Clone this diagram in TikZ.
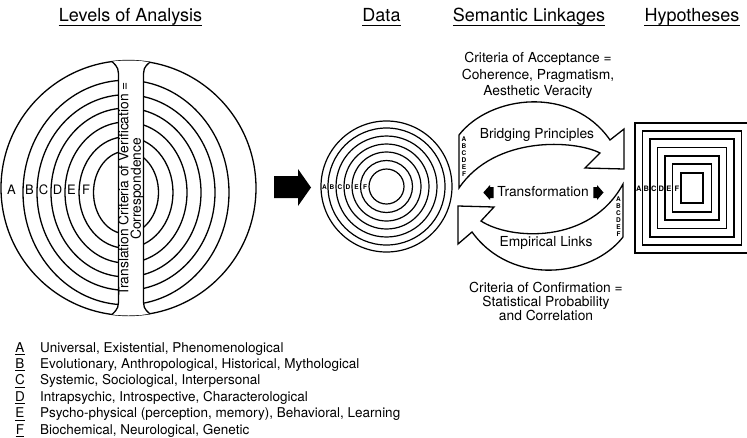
\documentclass[tikz,border=0pt]{standalone}
\usepackage{fontspec}
\setmainfont{TeX Gyre Heros}
\begin{document}
\begin{tikzpicture}[x=1pt,y=-1pt]
\tikzset{
  ln/.style={line width=1.3pt, line join=miter},
  ttl/.style={font=\fontsize{18}{21}\selectfont, inner sep=0pt, anchor=base},
  txt/.style={font=\fontsize{13.8}{16.5}\selectfont, inner sep=0pt, align=center},
  lvl/.style={font=\fontsize{13}{15}\selectfont, inner sep=0pt},
  tinylet/.style={font=\fontsize{6.5}{7}\selectfont\bfseries, inner sep=0pt, align=center},
  hyplet/.style={font=\fontsize{7.5}{8}\selectfont\bfseries, inner sep=0pt},
  leg/.style={font=\fontsize{13.5}{16}\selectfont, inner sep=0pt, anchor=base west},
  legl/.style={font=\fontsize{13.5}{16}\selectfont, inner sep=0pt, anchor=base},
  uline/.style={line width=1pt},
}
\clip (0,0) rectangle (747,437);
\fill[white] (0,0) rectangle (747,437);

% ---------- titles ----------
\node[ttl] (t1) at (130.5,21) {Levels of Analysis};
\node[ttl] (t2) at (381.5,21) {Data};
\node[ttl] (t3) at (529,21) {Semantic Linkages};
\node[ttl] (t4) at (692,21) {Hypotheses};
\foreach \t in {t1,t2,t3,t4}
  \draw[uline] ([yshift=-4.5pt]\t.base west) -- ([yshift=-4.5pt]\t.base east);

% ---------- levels of analysis ----------
\coordinate (bc) at (128.5,188);
\coordinate (bci) at (126,192.5);
\draw[ln] (bc) circle[radius=127.5pt];
\foreach \rx/\ry in {103/112.3,89/97.8,75/84.4,61/70.5,47/55.7,32.5/41.3}
  \draw[ln] (bci) ellipse[x radius=\rx pt, y radius=\ry pt];
\begin{scope}
  \clip (bc) circle[radius=127.5pt];
  \fill[white] (108,40) -- (112,61.5) .. controls (118.5,68) .. (118.5,80) -- (118.5,296)
     .. controls (118.5,308) .. (112,314.5) -- (108,335) -- (154,335) -- (150,314)
     .. controls (143.5,308) .. (143.5,296) -- (143.5,80) .. controls (143.5,68) .. (150,62) -- (154,40) -- cycle;
\end{scope}
\draw[ln] (112,61.5) .. controls (118.5,68) .. (118.5,80) -- (118.5,296) .. controls (118.5,308) .. (112,314.5);
\draw[ln] (150,62) .. controls (143.5,68) .. (143.5,80) -- (143.5,296) .. controls (143.5,308) .. (150,314);
\node[txt, rotate=90, font=\fontsize{13.8}{12.5}\selectfont] (band) at (131,189)
  {Translation Criteria of Verification =\\Correspondence};
\node[lvl] (bA) at (11.5,190) {A};
\node[lvl] (bB) at (29.5,190) {B};
\node[lvl] (bC) at (43.5,190) {C};
\node[lvl] (bD) at (57.5,190) {D};
\node[lvl] (bE) at (71.5,190) {E};
\node[lvl] (bF) at (86,190) {F};

% ---------- big black arrow ----------
\fill (274,176) -- (298,176) -- (298,169) -- (311,187.5) -- (298,206) -- (298,198) -- (274,198) -- cycle;

% ---------- data ----------
\coordinate (dc) at (386.5,186.5);
\foreach \r in {65.5,58.5,50.5,42.5,34.5,26,17.5}
  \draw[ln, line width=1.2pt] (dc) circle[radius=\r pt];
\node[tinylet] (dA) at (324.5,187) {A};
\node[tinylet] (dB) at (332,187) {B};
\node[tinylet] (dC) at (340,187) {C};
\node[tinylet] (dD) at (348,187) {D};
\node[tinylet] (dE) at (356.5,187) {E};
\node[tinylet] (dF) at (365,187) {F};

% ---------- semantic linkages ----------
\draw[ln] (459,135) .. controls (490,95) and (572,85) .. (610,140) -- (624,129) -- (624,169)
  -- (585,168) -- (600,153) .. controls (575,140) and (495,135) .. (459,188) -- cycle;
\draw[ln] (623,237) .. controls (592,277) and (512,287) .. (472,232) -- (458,244) -- (458,206)
  -- (494,207) -- (481,221) .. controls (510,240) and (590,245) .. (623,184) -- cycle;
\node[tinylet] (ustack) at (464,157) {A\\B\\C\\D\\E\\F};
\node[tinylet] (lstack) at (618.5,216.5) {A\\B\\C\\D\\E\\F};

\node[txt] (acc) at (538,75.5) {Criteria of Acceptance =\\Coherence, Pragmatism,\\Aesthetic Veracity};
\node[txt] (bp) at (537,135) {Bridging Principles};
\node[txt] (tr) at (543,192) {Transformation};
\node[txt] (el) at (546,243) {Empirical Links};
\node[txt, font=\fontsize{13.8}{13.8}\selectfont] (conf) at (546,301.5)
  {Criteria of Confirmation =\\Statistical Probability\\and Correlation};
\fill (483.3,192.5) -- (490,185) -- (490,187) -- (493.5,187) -- (493.5,198) -- (490,198) -- (490,200) -- cycle;
\fill (603.5,192.5) -- (597,185) -- (597,187) -- (593.3,187) -- (593.3,198) -- (597,198) -- (597,200) -- cycle;

% ---------- hypotheses ----------
\foreach \w/\h in {57/65,49.5/57,42/49,34.5/40.5,27/32,19.5/24,11/15}
  \draw[ln, line width=1.2pt] ({692-\w},{188-\h}) rectangle ({692+\w},{188+\h});
\node[hyplet] (hA) at (638.8,189) {A};
\node[hyplet] (hB) at (646.3,189) {B};
\node[hyplet] (hC) at (653.8,189) {C};
\node[hyplet] (hD) at (661.3,189) {D};
\node[hyplet] (hE) at (668.8,189) {E};
\node[hyplet] (hF) at (676.8,189) {F};

% ---------- legend ----------
\node[legl] (lA) at (20,352) {A};
\node[leg] (xA) at (40,352) {Universal, Existential, Phenomenological};
\node[legl] (lB) at (20,368.4) {B};
\node[leg] (xB) at (40,368.4) {Evolutionary, Anthropological, Historical, Mythological};
\node[legl] (lC) at (20,384.8) {C};
\node[leg] (xC) at (40,384.8) {Systemic, Sociological, Interpersonal};
\node[legl] (lD) at (20,401.2) {D};
\node[leg] (xD) at (40,401.2) {Intrapsychic, Introspective, Characterological};
\node[legl] (lE) at (20,417.6) {E};
\node[leg] (xE) at (40,417.6) {Psycho-physical (perception, memory), Behavioral, Learning};
\node[legl] (lF) at (20,434) {F};
\node[leg] (xF) at (40,434) {Biochemical, Neurological, Genetic};
\foreach \l in {lA,lB,lC,lD,lE,lF}
  \draw[line width=0.9pt] ([yshift=-2.5pt]\l.base west) -- ([yshift=-2.5pt]\l.base east);
\end{tikzpicture}
\end{document}
